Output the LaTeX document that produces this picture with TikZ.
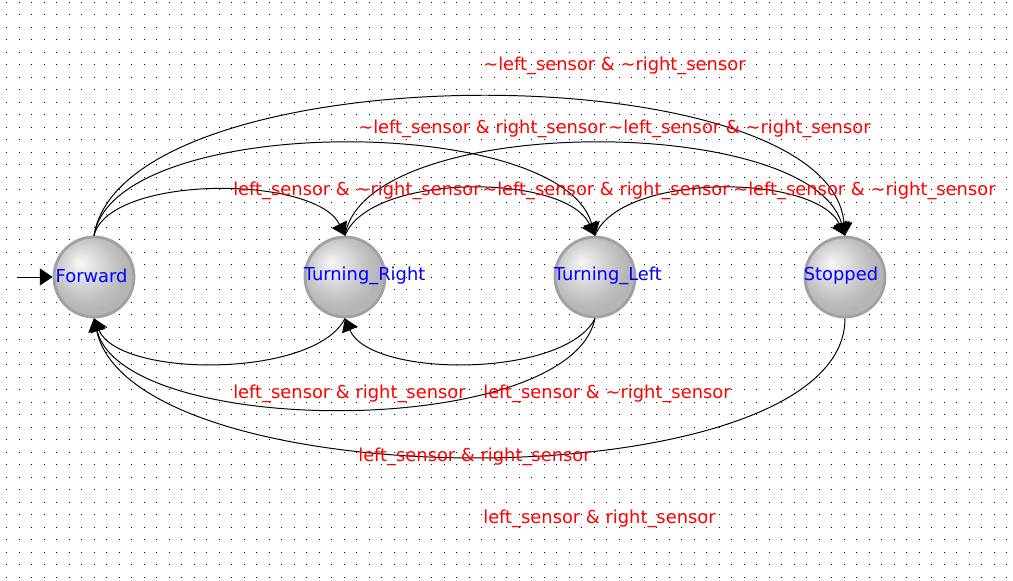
\documentclass[tikz,border=0pt]{standalone}
\usepackage{fontspec}
\setmainfont{DejaVu Sans}
\usetikzlibrary{arrows.meta}

\pgfdeclareradialshading{stateball}{\pgfpoint{-9bp}{9bp}}{%
  color(0bp)=(black!3); color(9bp)=(black!13); color(20bp)=(black!25);
  color(25bp)=(black!29); color(50bp)=(black!29)}

\newcommand{\nots}{\textasciitilde}

\begin{document}
\begin{tikzpicture}[x=0.025cm, y=-0.025cm,
    state/.style={circle, minimum size=2cm, inner sep=0pt, shading=stateball,
      draw={rgb,255:red,160;green,160;blue,166}, line width=2pt},
    statename/.style={anchor=west, text={rgb,255:red,0;green,0;blue,255},
      inner sep=0pt, yshift=1pt, font=\fontsize{12.7}{15}\selectfont},
    guard/.style={anchor=base west, text={rgb,255:red,255;green,0;blue,0},
      inner sep=0pt, font=\fontsize{12.7}{15}\selectfont},
    trans/.style={draw=black, line width=0.7pt,
      -{Triangle[length=9pt, width=12pt]}}]
    % page and dotted grid
    \useasboundingbox (0,0) rectangle (1013,580);
    \fill[white] (0,0) rectangle (1013,580);
    \foreach \i in {0,...,80}
        \foreach \j in {0,...,46}
            \fill[black] (6.3+12.5*\i,1.7+12.5*\j) rectangle ++(1,1);

    % states
    \node[state, label={[statename, name=fwdtxt, xshift=2pt]west:Forward}] (fwd) at (94,277) {};
    \node[state, label={[statename, name=trtxt]west:Turning\_Right}] (tright) at (345,277) {};
    \node[state, label={[statename, name=tltxt]west:Turning\_Left}] (tleft) at (595,277) {};
    \node[state, label={[statename, name=sttxt]west:Stopped}] (stop) at (845,277) {};

    % initial arrow
    \coordinate (init) at (17,277);
    \draw[trans] (init) -- (fwd.west);

    % transitions above
    \draw[trans] (fwd.north) .. controls +(30,-185) and +(-15,-185) .. (stop.north);
    \draw[trans] (fwd.north) .. controls +(20,-123) and +(-35,-123) .. (tleft.north);
    \draw[trans] (fwd.north) .. controls +(15,-61) and +(-30,-61) .. (tright.north);
    \draw[trans] (tright.north) .. controls +(20,-123) and +(-35,-123) .. (stop.north);
    \draw[trans] (tright.north) .. controls +(25,-63) and +(-30,-63) .. (tleft.north);
    \draw[trans] (tleft.north) .. controls +(25,-63) and +(-30,-63) .. (stop.north);

    % transitions below
    \draw[trans] (tright.south) .. controls +(-30,60) and +(25,60) .. (fwd.south);
    \draw[trans] (tleft.south) .. controls +(-30,60) and +(25,60) .. (tright.south);
    \draw[trans] (tleft.south) .. controls +(-25,121) and +(30,121) .. (fwd.south);
    \draw[trans] (stop.south) .. controls +(0,184) and +(40,184) .. (fwd.south);

    % guards
    \node[guard] (gfs) at (483,70) {\nots left\_sensor \& \nots right\_sensor};
    \node[guard] (gftl) at (358,133) {\nots left\_sensor \& right\_sensor};
    \node[guard] (gtrs) at (608,133) {\nots left\_sensor \& \nots right\_sensor};
    \node[guard] (gftr) at (233,195) {left\_sensor \& \nots right\_sensor};
    \node[guard] (gtrtl) at (482,195) {\nots left\_sensor \& right\_sensor};
    \node[guard] (gtls) at (733,195) {\nots left\_sensor \& \nots right\_sensor};
    \node[guard] (gtrf) at (233,398) {left\_sensor \& right\_sensor};
    \node[guard] (gtltr) at (483,398) {left\_sensor \& \nots right\_sensor};
    \node[guard] (gtlf) at (358,461) {left\_sensor \& right\_sensor};
    \node[guard] (gsf) at (483,523) {left\_sensor \& right\_sensor};
\end{tikzpicture}
\end{document}
